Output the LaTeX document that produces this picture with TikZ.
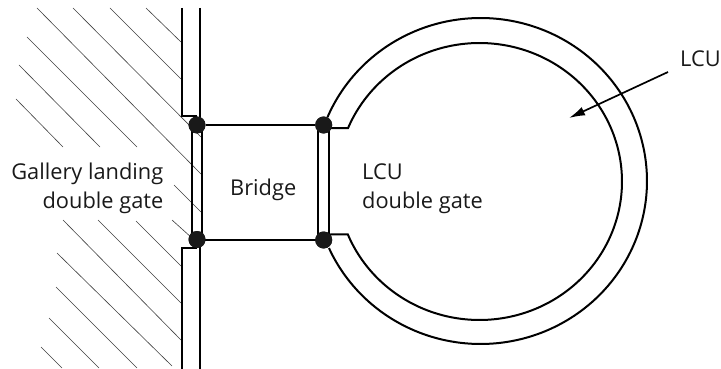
\documentclass[tikz,border=0pt]{standalone}
\usepackage{fontspec}
\setmainfont{Open Sans}
\usetikzlibrary{arrows.meta}
\tikzset{
  wall/.style={line width=2pt,black,line join=miter},
  hatch/.style={line width=0.6pt,black!75},
  pivot/.style={circle,fill=black!90,inner sep=0pt,minimum size=17pt},
  lab/.style={font=\fontsize{21.8}{26}\selectfont,inner sep=0pt,text=black!90},
  pointer/.style={line width=1.7pt,-{Latex[length=16pt,width=9pt]}}
}
\begin{document}
\begin{tikzpicture}[x=1pt,y=-1pt]
\useasboundingbox (0,0) rectangle (721,369);
% hatching
\foreach \a/\b/\c/\d in {146/8/181/42,110/8/181/79,73/8/201/137,37/8/201/174,27/37/137/147,19/65/100/147,16/99/63/147,
  174/185/201/212,172/220/192/238,136/221/181/266,98/220/181/303,63/220/181/340,57/253/172/366,56/287/137/368,49/318/99/368,41/347/62/368}
  \draw[hatch] (\a,\b) -- (\c,\d);
% white interior of the wall gaps
\fill[white] (182.5,8) rectangle (200,117);
\fill[white] (182.5,248) rectangle (200,369);
% pivots
\node[pivot] (tl) at (197,125) {};
\node[pivot] (bl) at (197,239.5) {};
\node[pivot] (tr) at (323.7,125) {};
\node[pivot] (br) at (323.7,240) {};
% wall
\coordinate (wtl) at (182,8);
\coordinate (wtr) at (200,8);
\coordinate (wbl) at (182,369);
\coordinate (wbr) at (200,369);
\draw[wall] (wtl) |- (tl.north);
\draw[wall] (wtr) -- (wtr |- tl.center);
\draw[wall] (wbl) |- (bl.south);
\draw[wall] (wbr) -- (wbr |- bl.center);
% gates
\draw[wall] (192,125) -- (192,240);
\draw[wall] (202,125) -- (202,240);
\draw[wall] (318,125) -- (318,240);
\draw[wall] (329,125) -- (329,240);
% bridge
\draw[wall] (tl) -- (tr);
\draw[wall] (bl.center) -- (bl.center -| br.center);
% LCU ring
\draw[wall] plot[domain=157:-155.7,samples=120,smooth] ({480.6+166.4*cos(\x)},{181-163*sin(\x)});
\draw[wall] (tr.center) -- (331,128) -- plot[domain=157.3:-157.6,samples=120,smooth] ({479.5+142.5*cos(\x)},{181.5-138.5*sin(\x)}) -- (331,234.3) -- (br.center);
\node[pivot] at (tr) {};
\node[pivot] at (br) {};
\node[pivot] at (tl) {};
\node[pivot] at (bl) {};
% labels
\node[lab,anchor=base east] (gl1) at (163.5,179) {Gallery landing};
\node[lab,anchor=base east] (gl2) at (163.5,208) {double gate};
\node[lab,anchor=base west] (br1) at (230,195) {Bridge};
\node[lab,anchor=base west] (lg1) at (362,179) {LCU};
\node[lab,anchor=base west] (lg2) at (362,208) {double gate};
\node[lab,anchor=base west] (lc) at (680,67) {LCU};
\coordinate (tip) at (569,118);
\draw[pointer] (668,72) -- (tip);
\end{tikzpicture}
\end{document}
